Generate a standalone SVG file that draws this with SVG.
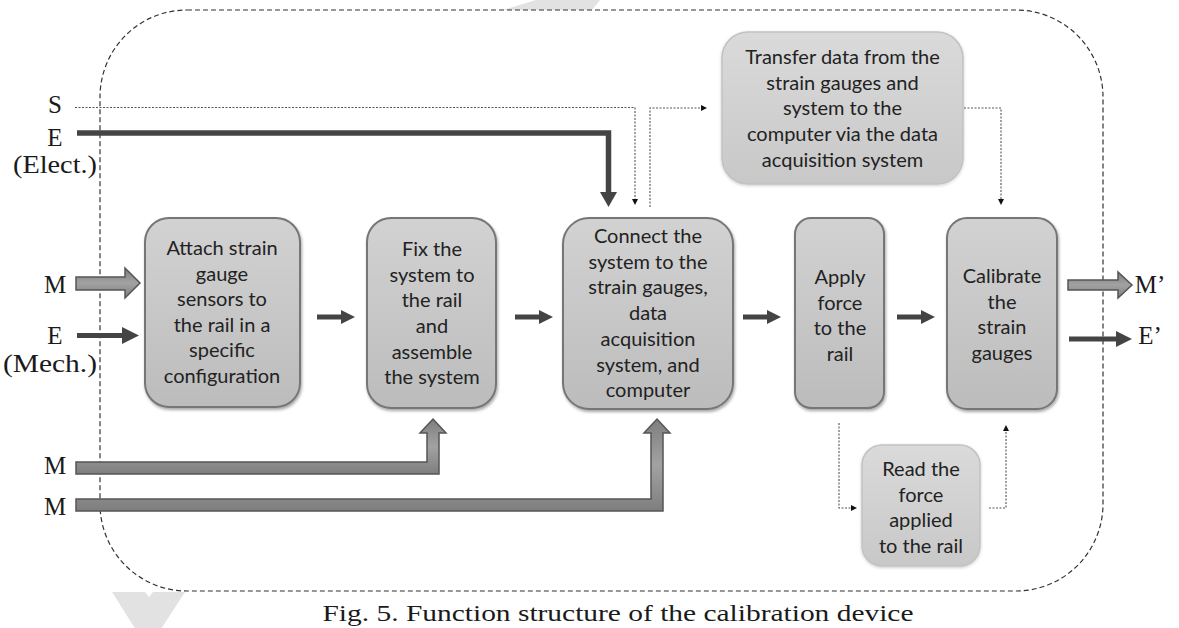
<svg xmlns="http://www.w3.org/2000/svg" width="1179" height="628" viewBox="0 0 1179 628">
<style>
.lbl{font-family:"Liberation Serif","Times New Roman",serif;font-size:25px;fill:#1a1a1a;text-anchor:middle}
.cap{font-family:"Liberation Serif","Times New Roman",serif;font-size:24px;fill:#1a1a1a;text-anchor:middle}
.bt{font-family:Lato,"Liberation Sans",sans-serif;font-size:20px;fill:#222;text-anchor:middle}
.box{fill:url(#gBox);stroke:#767676;stroke-width:2;filter:url(#sh)}
.lbox{fill:url(#gLight);stroke:#c2c2c2;stroke-width:1.5;filter:url(#sh2)}
.dot{fill:none;stroke:#555;stroke-width:1.1;stroke-dasharray:2 1.5}
.thick{fill:none;stroke:#444;stroke-width:5.5}
.flow{fill:none;stroke:#444;stroke-width:5}
.head{fill:#444}
.sm{fill:#111}
.blk{fill:url(#gArr);stroke:#555;stroke-width:1.5;stroke-linejoin:miter}
.wm{fill:#e2e2e2}
</style>
<defs>
<linearGradient id="gBox" x1="0" y1="0" x2="0" y2="1">
<stop offset="0" stop-color="#d2d2d2"/><stop offset="1" stop-color="#bcbcbc"/>
</linearGradient>
<linearGradient id="gLight" x1="0" y1="0" x2="0" y2="1">
<stop offset="0" stop-color="#dadada"/><stop offset="1" stop-color="#c8c8c8"/>
</linearGradient>
<linearGradient id="gArr" x1="0" y1="0" x2="0" y2="1">
<stop offset="0" stop-color="#7e7e7e"/><stop offset="0.5" stop-color="#a2a2a2"/><stop offset="1" stop-color="#7e7e7e"/>
</linearGradient>
<filter id="sh" x="-10%" y="-10%" width="125%" height="125%">
<feDropShadow dx="1" dy="2" stdDeviation="1.5" flood-color="#000" flood-opacity="0.35"/>
</filter>
<filter id="sh2" x="-10%" y="-10%" width="125%" height="125%">
<feDropShadow dx="0" dy="1" stdDeviation="1.5" flood-color="#000" flood-opacity="0.2"/>
</filter>
</defs>
<rect width="1179" height="628" fill="#fff"/>
<!-- faint background marks -->
<polygon class="wm" points="503,10 536,0 600,0 592,10"/>
<polygon class="wm" points="112,592 145,592 149,597 153,592 185,592 148,649"/>
<!-- system boundary -->
<rect x="100" y="10" width="1003" height="581" rx="87" ry="87" fill="none" stroke="#333" stroke-width="1.2" stroke-dasharray="5 3"/>

<g id="labels">
<text class="lbl" x="55" y="113">S</text>
<text class="lbl" x="55" y="146">E</text>
<text class="lbl" x="55" y="173" textLength="84" lengthAdjust="spacingAndGlyphs">(Elect.)</text>
<text class="lbl" x="55" y="293">M</text>
<text class="lbl" x="55" y="344">E</text>
<text class="lbl" x="50" y="372" textLength="94" lengthAdjust="spacingAndGlyphs">(Mech.)</text>
<text class="lbl" x="55" y="474">M</text>
<text class="lbl" x="55" y="515">M</text>
<text class="lbl" x="1150" y="293">M’</text>
<text class="lbl" x="1150" y="344">E’</text>
<text class="cap" x="618" y="621" textLength="591" lengthAdjust="spacingAndGlyphs">Fig. 5. Function structure of the calibration device</text>
</g>

<g id="connectors">
<!-- S signal -->
<polyline class="dot" points="75,107.5 635,107.5 635,199"/>
<polygon class="sm" points="632,199 638,199 635,205"/>
<!-- E electrical -->
<polyline class="thick" points="77,133 608.5,133 608.5,193"/>
<polygon class="head" points="600,192 617,192 608.5,207"/>
<!-- out to transfer -->
<polyline class="dot" points="650,207 650,108 701,108"/>
<polygon class="sm" points="701,105 707,108 701,111"/>
<!-- transfer to calibrate -->
<polyline class="dot" points="964,108 1001,108 1001,199"/>
<polygon class="sm" points="998,199 1004,199 1001,205"/>
<!-- apply to read -->
<polyline class="dot" points="839,423 839,508 851,508"/>
<polygon class="sm" points="851,505 857,508 851,511"/>
<!-- read to calibrate -->
<polyline class="dot" points="989,508 1006,508 1006,431"/>
<polygon class="sm" points="1003,431 1009,431 1006,425"/>
<!-- flow arrows between boxes -->
<line class="flow" x1="317" y1="317" x2="342" y2="317"/><polygon class="head" points="341,310 355,317 341,324"/>
<line class="flow" x1="515" y1="317" x2="540" y2="317"/><polygon class="head" points="539,310 553,317 539,324"/>
<line class="flow" x1="743" y1="317" x2="768" y2="317"/><polygon class="head" points="767,310 781,317 767,324"/>
<line class="flow" x1="897" y1="317" x2="922" y2="317"/><polygon class="head" points="921,310 935,317 921,324"/>
<!-- E mech -->
<line class="flow" x1="77" y1="335.5" x2="124" y2="335.5"/><polygon class="head" points="122,327 139,335.5 122,344"/>
<!-- E' -->
<line class="flow" x1="1069" y1="339" x2="1118" y2="339"/><polygon class="head" points="1116,331 1132,339 1116,347"/>
<!-- M block arrows -->
<path class="blk" d="M76,277 H125 V268 L140,283 L125,298 V290 H76 Z"/>
<path class="blk" d="M1068,280 H1118 V272 L1132,285 L1118,298 V290 H1068 Z"/>
<path class="blk" d="M76,462 H427 V433 H420 L433,419 L446,433 H439 V474 H76 Z"/>
<path class="blk" d="M76,499 H651 V433 H644 L657,419 L670,433 H663 V511 H76 Z"/>
</g>

<g id="n-attach">
<rect class="box" x="145" y="218" width="155" height="189" rx="24"/>
<text class="bt" x="222" y="255">Attach strain</text>
<text class="bt" x="222" y="280.5">gauge</text>
<text class="bt" x="222" y="306">sensors to</text>
<text class="bt" x="222" y="331.5">the rail in a</text>
<text class="bt" x="222" y="357">specific</text>
<text class="bt" x="222" y="382.5">configuration</text>
</g>
<g id="n-fix">
<rect class="box" x="367" y="218" width="129" height="190" rx="24"/>
<text class="bt" x="432" y="256">Fix the</text>
<text class="bt" x="432" y="281.5">system to</text>
<text class="bt" x="432" y="307">the rail</text>
<text class="bt" x="432" y="333">and</text>
<text class="bt" x="432" y="358.5">assemble</text>
<text class="bt" x="432" y="384">the system</text>
</g>
<g id="n-connect">
<rect class="box" x="563" y="218" width="170" height="191" rx="26"/>
<text class="bt" x="648" y="243">Connect the</text>
<text class="bt" x="648" y="268.7">system to the</text>
<text class="bt" x="648" y="294.4">strain gauges,</text>
<text class="bt" x="648" y="320.1">data</text>
<text class="bt" x="648" y="345.8">acquisition</text>
<text class="bt" x="648" y="371.5">system, and</text>
<text class="bt" x="648" y="397.2">computer</text>
</g>
<g id="n-apply">
<rect class="box" x="795" y="218" width="89" height="190" rx="16"/>
<text class="bt" x="840" y="284">Apply</text>
<text class="bt" x="840" y="309.5">force</text>
<text class="bt" x="840" y="335">to the</text>
<text class="bt" x="840" y="360.5">rail</text>
</g>
<g id="n-calibrate">
<rect class="box" x="947" y="218" width="110" height="191" rx="20"/>
<text class="bt" x="1002" y="283">Calibrate</text>
<text class="bt" x="1002" y="308.5">the</text>
<text class="bt" x="1002" y="334">strain</text>
<text class="bt" x="1002" y="359.5">gauges</text>
</g>
<g id="n-transfer">
<rect class="lbox" x="722" y="32" width="241" height="152" rx="26"/>
<text class="bt" x="842.5" y="64">Transfer data from the</text>
<text class="bt" x="842.5" y="89.7">strain gauges and</text>
<text class="bt" x="842.5" y="115.4">system to the</text>
<text class="bt" x="842.5" y="141.1">computer via the data</text>
<text class="bt" x="842.5" y="166.8">acquisition system</text>
</g>
<g id="n-read">
<rect class="lbox" x="862" y="445" width="118" height="121" rx="20"/>
<text class="bt" x="921" y="476">Read the</text>
<text class="bt" x="921" y="501.5">force</text>
<text class="bt" x="921" y="527">applied</text>
<text class="bt" x="921" y="552.5">to the rail</text>
</g>
</svg>
